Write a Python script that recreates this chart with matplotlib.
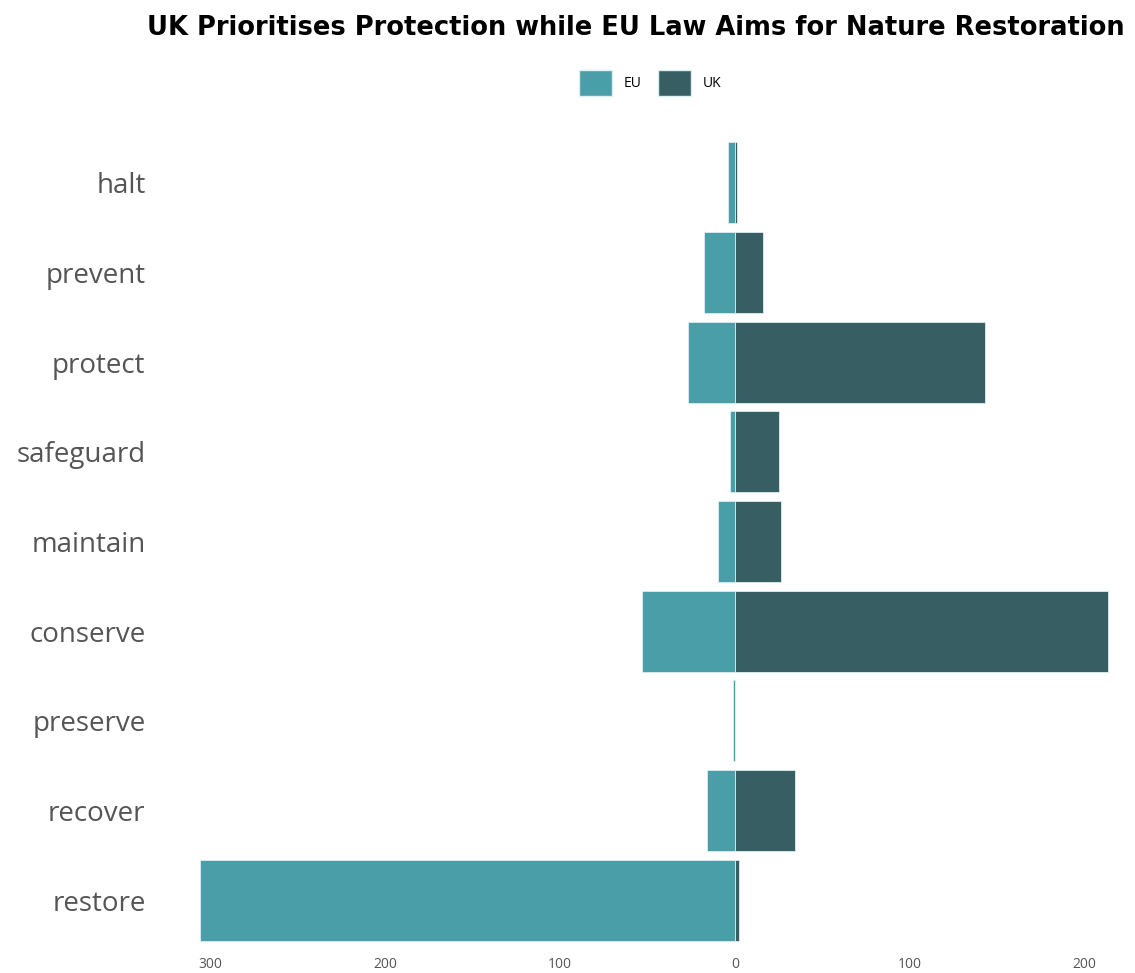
import matplotlib
matplotlib.use('Agg')
import matplotlib.pyplot as plt
from matplotlib.patches import Patch
from matplotlib.ticker import FuncFormatter

plt.rcParams['font.family'] = ['Open Sans', 'DejaVu Sans']

# 数据：每个动词在 EU / UK 法律中出现的次数
verbs = ['halt', 'prevent', 'protect', 'safeguard', 'maintain',
         'conserve', 'preserve', 'recover', 'restore']
eu_counts = [4, 18, 27, 3, 10, 53, 1, 16, 306]
uk_counts = [1, 16, 143, 25, 26, 213, 0, 34, 2]
tick_vals = [-300, -200, -100, 0, 100, 200]

EU_COLOR = '#4a9ea7'
UK_COLOR = '#375f63'

fig = plt.figure(figsize=(11.35, 9.73), dpi=100)
ax = fig.add_axes([165 / 1135, 1 - 945 / 973, 960 / 1135, (945 - 138) / 973])

y = list(range(len(verbs)))
ax.barh(y, [-v for v in eu_counts], height=0.9, color=EU_COLOR,
        edgecolor='#dbeef0', linewidth=0.6)
ax.barh(y, uk_counts, height=0.9, color=UK_COLOR,
        edgecolor='#dbeef0', linewidth=0.6)

ax.set_xlim(-326, 223)
ax.set_ylim(len(verbs) - 0.5, -0.5)
ax.set_yticks(y)
ax.set_yticklabels(verbs, fontsize=20, color='#555555')
ax.set_xticks(tick_vals)
ax.xaxis.set_major_formatter(FuncFormatter(lambda v, p: f'{abs(int(v))}'))
ax.tick_params(axis='x', labelsize=10, colors='#555555', length=0, pad=9)
ax.tick_params(axis='y', length=0, pad=14)
for s in ax.spines.values():
    s.set_visible(False)

fig.text(1125 / 1135, 1 - 28 / 973, 'UK Prioritises Protection while EU Law Aims for Nature Restoration',
         ha='right', va='center', fontsize=18.5, fontweight='bold', color='black',
         family='DejaVu Sans')

handles = [Patch(facecolor=EU_COLOR, edgecolor='#dbeef0', label='EU'),
           Patch(facecolor=UK_COLOR, edgecolor='#dbeef0', label='UK')]
fig.legend(handles=handles, loc='center', bbox_to_anchor=(650 / 1135, 1 - 83 / 973),
           ncol=2, frameon=False, fontsize=10, handlelength=2.4, handleheight=2.4,
           handletextpad=0.8, columnspacing=1.2)

plt.savefig('out.png', dpi=100)
plt.close()
